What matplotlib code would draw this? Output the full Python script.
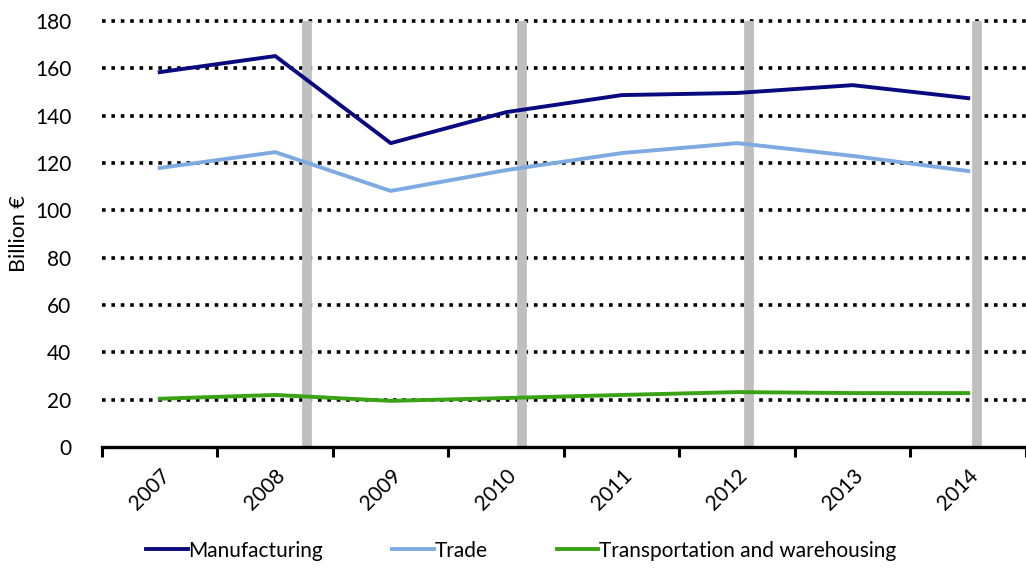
import matplotlib.pyplot as plt
import numpy as np

years = ["2007", "2008", "2009", "2010", "2011", "2012", "2013", "2014"]
manufacturing = [158.4, 165.2, 128.4, 141.5, 148.7, 149.6, 152.9, 147.4]
trade = [117.9, 124.6, 108.2, 117.0, 124.2, 128.4, 123.0, 116.6]
transport = [20.4, 22.0, 19.5, 20.7, 22.0, 23.2, 22.8, 22.8]
# grey vertical markers, in category units
markers = [1.276, 3.138, 5.103, 7.078]

plt.rcParams['font.family'] = ['Lato', 'DejaVu Sans']

fig = plt.figure(figsize=(10.26, 5.68), dpi=100)
ax = fig.add_axes([0.0994, 0.213, 0.9006, 0.75])

x = np.arange(len(years))

for yv in range(20, 181, 20):
    ax.axhline(yv, color='black', lw=2.6, linestyle=(0, (1, 1.6)), zorder=1, clip_on=False)

for m in markers:
    ax.plot([m, m], [0, 180], color='#BFBFBF', lw=7, solid_capstyle='butt', zorder=2)

ax.plot(x, manufacturing, color='#0A0A80', lw=2.8, label='Manufacturing', zorder=3)
ax.plot(x, trade, color='#7EAAE2', lw=2.8, label='Trade', zorder=3)
ax.plot(x, transport, color='#3AA315', lw=2.8, label='Transportation and warehousing', zorder=3)

ax.set_xlim(-0.5, len(years) - 0.5)
ax.set_ylim(0, 180)
ax.set_yticks(range(0, 181, 20))
ax.tick_params(axis='y', length=0, pad=22, labelsize=15)

ax.set_xticks(np.arange(-0.5, len(years), 1.0))
ax.set_xticklabels([])
ax.set_xticks(x, minor=True)
ax.set_xticklabels(years, minor=True, rotation=45, ha='right', va='top',
                   rotation_mode='anchor', fontsize=15)
ax.tick_params(axis='x', which='major', length=7, width=2.2, direction='out')
ax.tick_params(axis='x', which='minor', length=0, pad=13)

for s in ['top', 'right', 'left']:
    ax.spines[s].set_visible(False)
ax.spines['bottom'].set_linewidth(2.4)

ax.set_ylabel('Billion €', fontsize=15.5, labelpad=4)

fig.legend(loc='lower center', bbox_to_anchor=(0.508, -0.02), ncol=3, frameon=False,
           fontsize=15, handlelength=2.0, handletextpad=0.05, columnspacing=3.3)

fig.savefig('out.png', dpi=100)
